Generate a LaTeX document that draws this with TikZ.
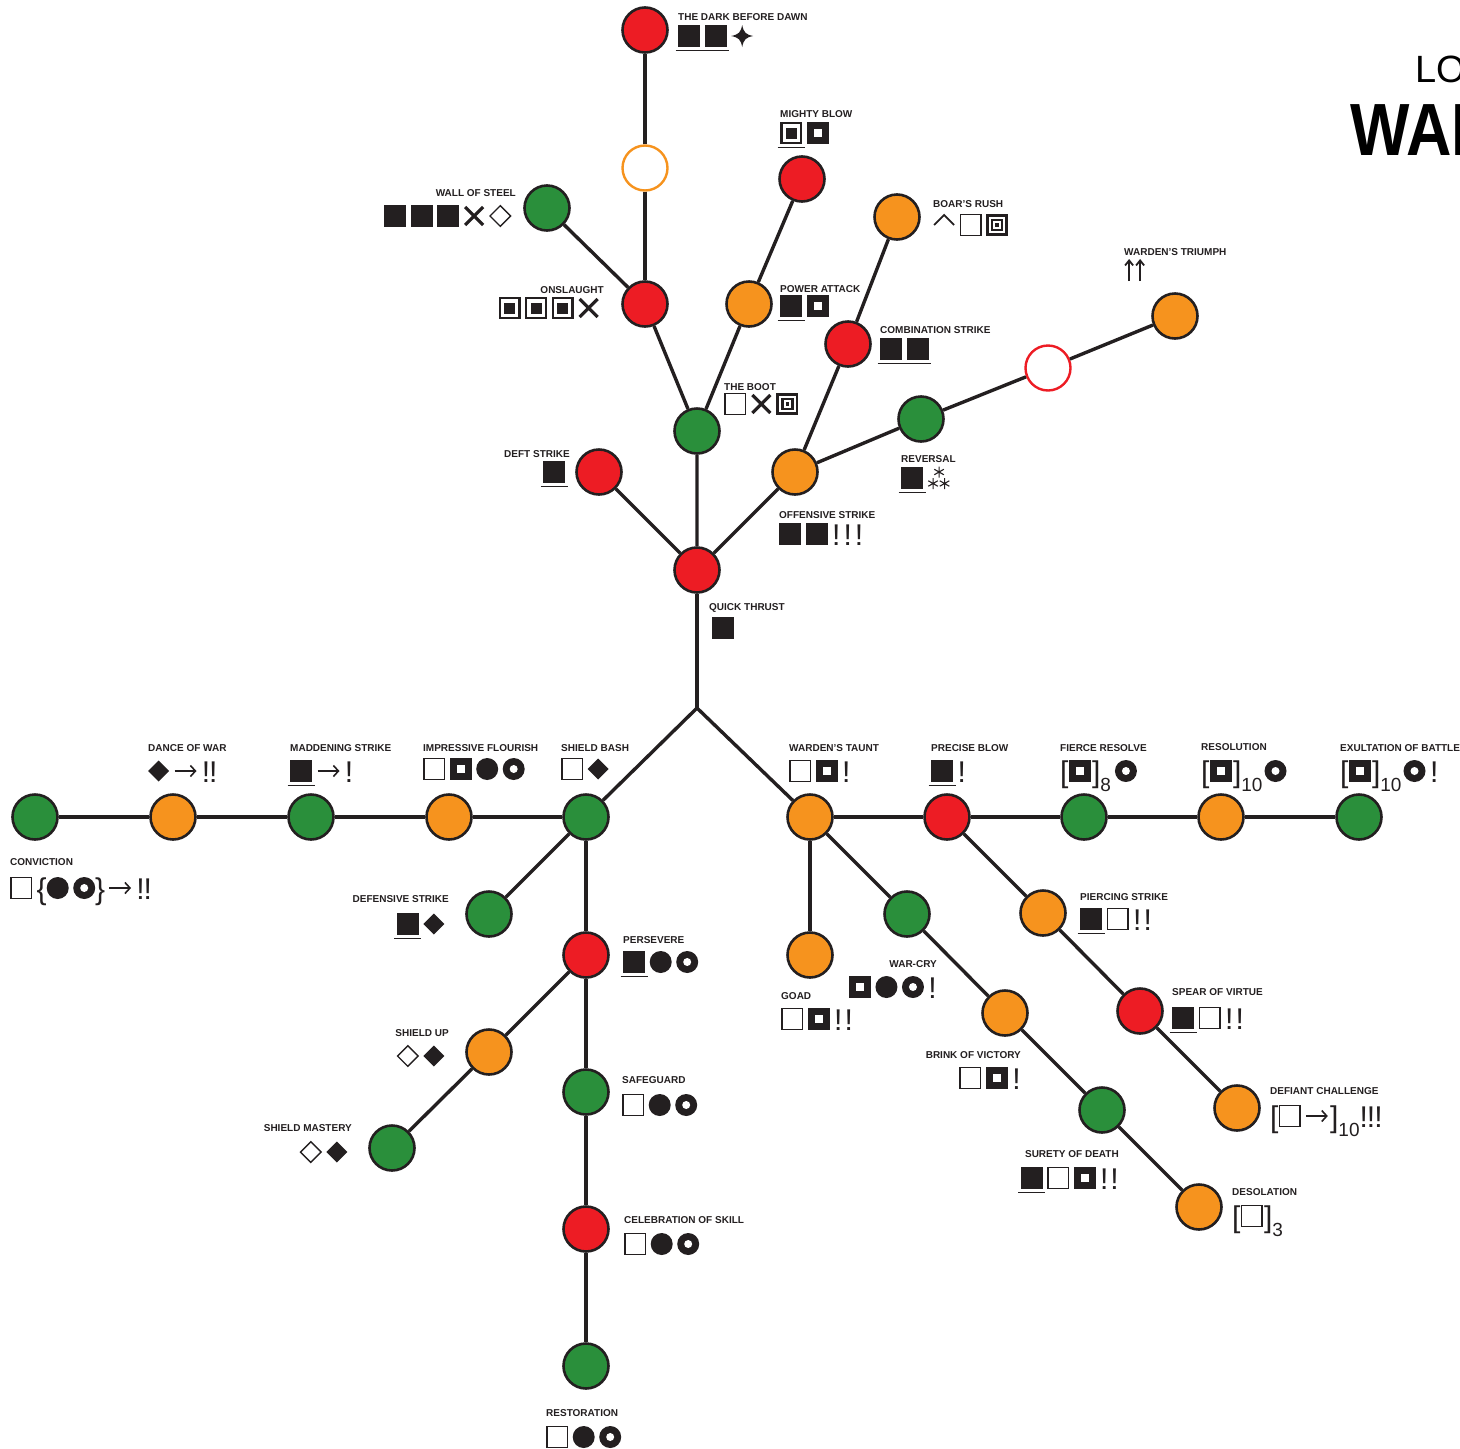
\documentclass[tikz,border=0pt]{standalone}
\usepackage{fontspec}
\usepackage{graphicx}
\setmainfont{Liberation Sans}
\usetikzlibrary{arrows.meta}

\definecolor{ink}{HTML}{231F20}
\definecolor{sred}{HTML}{ED1C24}
\definecolor{sorange}{HTML}{F6931E}
\definecolor{sgreen}{HTML}{2A8F3B}

\tikzset{
  sym/.style={baseline=0pt, x=1pt, y=1pt, line width=1.4pt, color=ink},
  ul/.style={execute at end picture={\draw[overlay, ink, line width=1.2pt] (-2.5,-3.5) -- (24.5,-3.5);}},
  skill/.style={circle, minimum size=45pt, inner sep=0pt, draw=ink, line width=2.6pt},
  hot/.style={skill, fill=sred},
  warm/.style={skill, fill=sorange},
  calm/.style={skill, fill=sgreen},
  hollow/.style={circle, minimum size=45pt, inner sep=0pt, line width=2.4pt, fill=white},
  link/.style={draw=ink, line width=3.4pt},
  skname/.style={font=\bfseries\fontsize{10}{12}\selectfont, text=ink, inner sep=0pt},
  symrow/.style={font=\fontsize{30}{30}\selectfont, text=ink, inner sep=0pt, execute at end node=\unkern},
}

% one symbol of a combo, then a small gap
\newcommand{\symb}[2]{\tikz[sym,#1]{#2}\kern4.5pt}
\newcommand{\hvy}[1][]{\symb{#1}{\fill (0,0) rectangle (22,22);}}
\newcommand{\lgt}[1][]{\symb{#1}{\draw (0.7,0.7) rectangle (21.3,21.3);}}
\newcommand{\gbk}[1][]{\symb{#1}{\fill (0,0) rectangle (22,22); \fill[white] (7,7) rectangle (15,15);}}
\newcommand{\nest}[1][]{\symb{#1}{\draw[line width=2.3pt] (1.15,1.15) rectangle (20.85,20.85); \fill (5.5,5.5) rectangle (16.5,16.5);}}
\newcommand{\tgt}{\symb{}{\draw[line width=2.6pt] (1.3,1.3) rectangle (20.7,20.7); \draw[line width=2.2pt] (6,6) rectangle (16,16); \fill (9.2,9.2) rectangle (12.8,12.8);}}
\newcommand{\disc}{\symb{}{\fill (11,11) circle (11);}}
\newcommand{\hoop}{\symb{}{\fill (11,11) circle (11); \fill[white] (11,11) circle (4);}}
\newcommand{\gem}{\symb{}{\fill (11,0.5) -- (21.5,11) -- (11,21.5) -- (0.5,11) -- cycle;}}
\newcommand{\hgem}{\symb{}{\draw (11,0.7) -- (21.3,11) -- (11,21.3) -- (0.7,11) -- cycle;}}
\newcommand{\xmark}{\symb{}{\draw[line width=3.2pt] (2,2) -- (20,20) (2,20) -- (20,2);}}
\newcommand{\spark}{\symb{}{\fill (11,0) .. controls (12.5,7.5) and (14.5,9.5) .. (22,11) .. controls (14.5,12.5) and (12.5,14.5) .. (11,22) .. controls (9.5,14.5) and (7.5,12.5) .. (0,11) .. controls (7.5,9.5) and (9.5,7.5) .. (11,0) -- cycle;}}
\newcommand{\onward}{\symb{}{\draw[line width=1.6pt, -{Straight Barb[length=5pt,width=11pt]}] (0,11) -- (22,11);}}
\newcommand{\peak}{\symb{}{\draw[line width=1.8pt] (1,11) -- (11,21) -- (21,11);}}
\newcommand{\rise}{\symb{}{\draw[line width=1.8pt, -{Straight Barb[length=5pt,width=8pt]}] (4,0) -- (4,22); \draw[line width=1.8pt, -{Straight Barb[length=5pt,width=8pt]}] (15,0) -- (15,22);}}
\newcommand{\stars}{\symb{}{\foreach \a/\b in {11.5/17,5.5/5.5,17/5.5} {\draw[line width=1.1pt] (\a,\b-5.5) -- (\a,\b+5.5) (\a-4.8,\b-2.75) -- (\a+4.8,\b+2.75) (\a-4.8,\b+2.75) -- (\a+4.8,\b-2.75);}}}
\newcommand{\lowidx}[1]{\raisebox{-9pt}{\fontsize{19}{19}\selectfont #1}}

% id, side, x, title centre y, symbols centre y, title, symbols
\newcommand{\skill}[7]{%
  \node[skname, anchor=base #2] (#1) at (#3,#4+4) {#6};
  \node[symrow, anchor=base #2] (#1-sym) at (#3,#5+11) {#7};}

\begin{document}
\begin{tikzpicture}[x=1pt, y=-1pt]
\useasboundingbox (0,0) rectangle (1460,1449);

% upper tree
\node[hot] (dawn) at (645,30) {};
\node[hollow, draw=sorange] (gap1) at (645,168) {};
\node[hot] (onsl) at (645,304) {};
\node[calm] (wall) at (547,208) {};
\node[hot] (mighty) at (802,179) {};
\node[warm] (power) at (749,304) {};
\node[warm] (boar) at (897,217) {};
\node[hot] (combo) at (848,344) {};
\node[warm] (triumph) at (1175,316) {};
\node[hollow, draw=sred] (gap2) at (1048,368) {};
\node[calm] (rev) at (921,419) {};
\node[calm] (boot) at (697,431) {};
\node[warm] (offens) at (795,472) {};
\node[hot] (deft) at (599,472) {};
\node[hot] (quick) at (697,570) {};
\coordinate (fork) at (697,708);

% left branch
\node[calm] (convic) at (35,817) {};
\node[warm] (dance) at (173,817) {};
\node[calm] (madden) at (311,817) {};
\node[warm] (flour) at (449,817) {};
\node[calm] (bash) at (586,817) {};
\node[calm] (defens) at (489,914) {};
\node[hot] (persev) at (586,955) {};
\node[calm] (safeg) at (586,1092) {};
\node[hot] (celeb) at (586,1229) {};
\node[calm] (restor) at (586,1366) {};
\node[warm] (shup) at (489,1052) {};
\node[calm] (mastery) at (392,1148) {};

% right branch
\node[warm] (taunt) at (810,817) {};
\node[hot] (precise) at (947,817) {};
\node[calm] (fierce) at (1084,817) {};
\node[warm] (resol) at (1221,817) {};
\node[calm] (exult) at (1359,817) {};
\node[warm] (goad) at (810,955) {};
\node[calm] (warcry) at (907,914) {};
\node[warm] (brink) at (1005,1013) {};
\node[calm] (surety) at (1102,1110) {};
\node[warm] (desol) at (1199,1207) {};
\node[warm] (pierce) at (1043,913) {};
\node[hot] (spear) at (1140,1011) {};
\node[warm] (defiant) at (1237,1108) {};

% connectors
\draw[link] (dawn) -- (gap1) -- (onsl);
\draw[link] (wall) -- (onsl) -- (boot) -- (quick);
\draw[link] (mighty) -- (power) -- (boot);
\draw[link] (boar) -- (combo) -- (offens) -- (quick);
\draw[link] (triumph) -- (gap2) -- (rev) -- (offens);
\draw[link] (deft) -- (quick);
\draw[link] (quick) -- (fork);
\draw[link] (bash) -- (fork) -- (taunt);
\draw[link] (convic) -- (dance) -- (madden) -- (flour) -- (bash);
\draw[link] (bash) -- (defens);
\draw[link] (bash) -- (persev) -- (safeg) -- (celeb) -- (restor);
\draw[link] (persev) -- (shup) -- (mastery);
\draw[link] (taunt) -- (precise) -- (fierce) -- (resol) -- (exult);
\draw[link] (taunt) -- (goad);
\draw[link] (taunt) -- (warcry) -- (brink) -- (surety) -- (desol);
\draw[link] (precise) -- (pierce) -- (spear) -- (defiant);

% labels
\skill{dawn-t}{west}{678}{16}{36}{THE DARK BEFORE DAWN}{\hvy[ul]\hvy[ul]\spark}
\skill{mighty-t}{west}{780}{113}{133}{MIGHTY BLOW}{\nest[ul]\gbk}
\skill{wall-t}{east}{516}{192}{216}{WALL OF STEEL}{\hvy\hvy\hvy\xmark\hgem}
\skill{boar-t}{west}{933}{203}{225}{BOAR’S RUSH}{\peak\lgt\tgt}
\skill{triumph-t}{west}{1124}{251}{270}{WARDEN’S TRIUMPH}{\rise}
\skill{onsl-t}{east}{604}{289}{308}{ONSLAUGHT}{\nest\nest\nest\xmark}
\skill{power-t}{west}{780}{288}{306}{POWER ATTACK}{\hvy[ul]\gbk}
\skill{combo-t}{west}{880}{329}{349}{COMBINATION STRIKE}{\hvy[ul]\hvy[ul]}
\skill{boot-t}{west}{724}{386}{404}{THE BOOT}{\lgt\xmark\tgt}
\skill{deft-t}{east}{570}{453}{472}{DEFT STRIKE}{\hvy[ul]}
\skill{rev-t}{west}{901}{458}{478}{REVERSAL}{\hvy[ul]\stars}
\skill{offens-t}{west}{779}{514}{534}{OFFENSIVE STRIKE}{\hvy\hvy!\kern3pt!\kern3pt!}
\skill{quick-t}{west}{709}{606}{628}{QUICK THRUST}{\kern3pt\hvy}
\skill{dance-t}{west}{148}{747}{771}{DANCE OF WAR}{\gem\onward!\kern-1pt!}
\skill{madden-t}{west}{290}{747}{771}{MADDENING STRIKE}{\hvy[ul]\onward!}
\skill{flour-t}{west}{423}{747}{769}{IMPRESSIVE FLOURISH}{\lgt\gbk\disc\hoop}
\skill{bash-t}{west}{561}{747}{769}{SHIELD BASH}{\lgt\gem}
\skill{convic-t}{west}{10}{861}{888}{CONVICTION}{\lgt\{\disc\hoop\unkern\}\kern3pt\onward!\kern-1pt!}
\skill{defens-t}{east}{449}{898}{924}{DEFENSIVE STRIKE}{\hvy[ul]\gem}
\skill{persev-t}{west}{623}{939}{962}{PERSEVERE}{\hvy[ul]\disc\hoop}
\skill{shup-t}{east}{449}{1032}{1056}{SHIELD UP}{\hgem\gem}
\skill{mastery-t}{east}{352}{1127}{1152}{SHIELD MASTERY}{\hgem\gem}
\skill{safeg-t}{west}{622}{1079}{1105}{SAFEGUARD}{\lgt\disc\hoop}
\skill{celeb-t}{west}{624}{1219}{1244}{CELEBRATION OF SKILL}{\lgt\disc\hoop}
\skill{restor-t}{west}{546}{1412}{1437}{RESTORATION}{\lgt\disc\hoop}
\skill{taunt-t}{west}{789}{747}{771}{WARDEN’S TAUNT}{\lgt\gbk!}
\skill{precise-t}{west}{931}{747}{771}{PRECISE BLOW}{\hvy[ul]!}
\skill{fierce-t}{west}{1060}{747}{771}{FIERCE RESOLVE}{[\gbk\kern-3pt]\lowidx{8}\kern4pt\hoop}
\skill{resol-t}{west}{1201}{746}{771}{RESOLUTION}{[\gbk\kern-3pt]\lowidx{10}\kern2pt\hoop}
\skill{exult-t}{west}{1340}{747}{771}{EXULTATION OF BATTLE}{[\gbk\kern-3pt]\lowidx{10}\kern2pt\hoop!}
\skill{pierce-t}{west}{1080}{896}{919}{PIERCING STRIKE}{\hvy[ul]\lgt!\kern2pt!}
\skill{warcry-t}{east}{937}{963}{987}{WAR-CRY}{\gbk\disc\hoop!}
\skill{goad-t}{west}{781}{995}{1019}{GOAD}{\lgt\gbk!\kern2pt!}
\skill{spear-t}{west}{1172}{991}{1018}{SPEAR OF VIRTUE}{\hvy[ul]\lgt!\kern2pt!}
\skill{brink-t}{east}{1021}{1054}{1078}{BRINK OF VICTORY}{\lgt\gbk!}
\skill{defiant-t}{west}{1270}{1090}{1116}{DEFIANT CHALLENGE}{[\lgt\onward\kern-3pt]\lowidx{10}!\kern-1pt!\kern-1pt!}
\skill{surety-t}{east}{1119}{1153}{1178}{SURETY OF DEATH}{\hvy[ul]\lgt\gbk!\kern2pt!}
\skill{desol-t}{west}{1232}{1191}{1216}{DESOLATION}{[\lgt\kern-3pt]\lowidx{3}}

% heading, cut by the page edge
\node[font=\fontsize{38}{38}\selectfont, text=black, anchor=base west, inner sep=0pt] (brand) at (1415,82) {LO};
\node[font=\bfseries\fontsize{74}{74}\selectfont, text=black, anchor=base west, inner sep=0pt] (hero) at (1350,155) {\scalebox{0.85}[1]{WAR}};
\end{tikzpicture}
\end{document}
